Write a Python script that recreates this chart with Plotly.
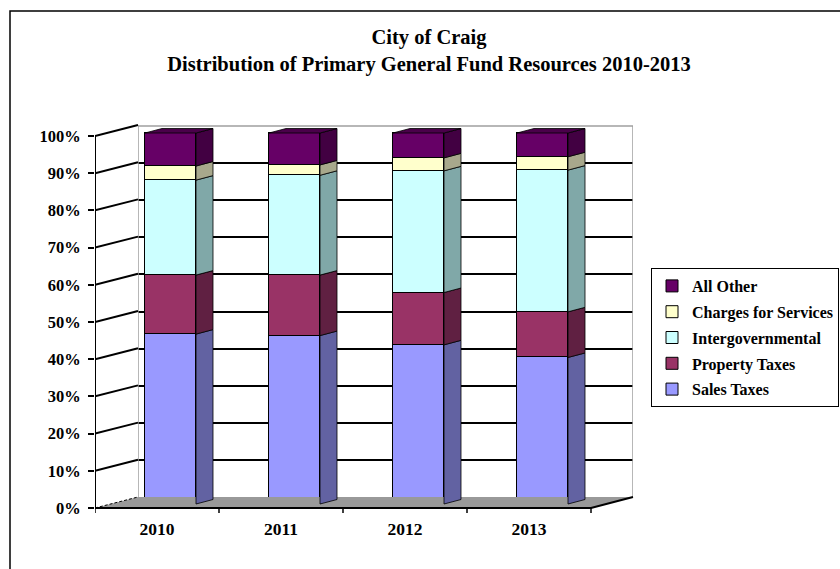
import plotly.graph_objects as go

# ---------------- data (percent of total) ----------------
years = ["2010", "2011", "2012", "2013"]
sales_taxes = [45.8, 45.4, 42.9, 39.5]
property_taxes = [15.9, 16.3, 14.1, 12.3]
intergovernmental = [25.6, 26.9, 32.8, 38.2]
charges_for_services = [3.8, 2.8, 3.5, 3.6]
all_other = [8.9, 8.6, 6.7, 6.4]

series_names = ["Sales Taxes", "Property Taxes", "Intergovernmental",
                "Charges for Services", "All Other"]
series_values = [sales_taxes, property_taxes, intergovernmental,
                 charges_for_services, all_other]
front_colors = ["#9999FF", "#993366", "#CCFFFF", "#FFFFCC", "#660066"]
side_colors = ["#6262A2", "#602042", "#80A8A8", "#A8A88C", "#420042"]
top_color = "#4A004A"

y_ticks = list(range(0, 101, 10))

# ---------------- geometry (pixels -> axis units) ----------------
W, H = 840, 569
FONT = "Liberation Serif"

def px_x(p):
    return p / W

def px_y(p):
    return 1 - p / H

DOM_TOP, DOM_BOT = 110, 540          # vertical pixel extent of plot domains
BAR_L, BAR_R = 95, 640               # bar subplot horizontal pixels
CAT_PX = 124.0                       # pixels per category
YPX = 3.71                           # pixels per percent
BAR_ZERO = 504                       # bar front-face 0 %
AXIS_ZERO = 508                      # left axis / floor front 0 %
WALL_ZERO = 497                      # back wall 0 %
WALL_L, WALL_R = 138, 633

xr2 = [-0.5, -0.5 + (BAR_R - BAR_L) / CAT_PX]
def ux(p):  # pixel -> x2 units
    return -0.5 + (p - BAR_L) / CAT_PX
yr2 = [(BAR_ZERO - DOM_BOT) / YPX, (BAR_ZERO - DOM_TOP) / YPX]
def uy(p):  # pixel -> y2 units
    return (BAR_ZERO - p) / YPX

BAR_OFFSET = ux(145)
BAR_WIDTH = (196 - 145) / CAT_PX
DX = 17 / CAT_PX
DY = 4.5 / YPX

fig = go.Figure()

# ---------------- back wall (subplot x/y) ----------------
fig.add_trace(go.Scatter(x=[0, 0, 1, 1], y=[0, 100, 100, 0], mode="lines",
                         line=dict(color="#A0A0A0", width=1.5),
                         xaxis="x", yaxis="y", showlegend=False, hoverinfo="skip"))

# ---------------- floor ----------------
floor_front = uy(AXIS_ZERO)
floor_back = uy(WALL_ZERO)
fig.add_trace(go.Scatter(
    x=[-0.5, ux(591), ux(WALL_R), ux(WALL_L), -0.5],
    y=[floor_front, floor_front, floor_back, floor_back, floor_front],
    fill="toself", fillcolor="#999999", mode="lines",
    line=dict(color="rgba(0,0,0,0)", width=0),
    xaxis="x2", yaxis="y2", showlegend=False, hoverinfo="skip"))
# floor left edge (dashed)
fig.add_trace(go.Scatter(x=[-0.5, ux(WALL_L)], y=[floor_front, floor_back],
                         mode="lines", line=dict(color="black", width=1, dash="3px,2px"),
                         xaxis="x2", yaxis="y2", showlegend=False, hoverinfo="skip"))
# bottom axis line + slanted right edge
bx, by = [-0.5, ux(591), ux(WALL_R)], [floor_front, floor_front, floor_back]
fig.add_trace(go.Scatter(x=bx, y=by, mode="lines", line=dict(color="black", width=2),
                         xaxis="x2", yaxis="y2", showlegend=False, hoverinfo="skip"))
# category boundary ticks
tx, ty = [], []
for i in range(len(years) + 1):
    b = i - 0.5
    tx += [b, b, None]
    ty += [floor_front, floor_front - 5 / YPX, None]
fig.add_trace(go.Scatter(x=tx, y=ty, mode="lines", line=dict(color="black", width=1.5),
                         xaxis="x2", yaxis="y2", showlegend=False, hoverinfo="skip"))

# ---------------- left wall (axis x2 / y3, 0 at AXIS_ZERO) ----------------
yr3 = [(AXIS_ZERO - DOM_BOT) / 3.72, (AXIS_ZERO - DOM_TOP) / 3.72]
wall_shift = (AXIS_ZERO - WALL_ZERO) / 3.72
lx, ly = [-0.5, -0.5, None], [0, 100, None]
for v in y_ticks[1:]:
    lx += [-0.5, ux(WALL_L), None]
    ly += [v, v + wall_shift, None]
fig.add_trace(go.Scatter(x=lx, y=ly, mode="lines", line=dict(color="black", width=2),
                         xaxis="x2", yaxis="y3", showlegend=False, hoverinfo="skip"))

# ---------------- bars ----------------
n = len(series_names)
for k, (name, vals, col) in enumerate(zip(series_names, series_values, front_colors)):
    fig.add_trace(go.Bar(x=list(range(len(years))), y=vals, name=name,
                         offset=BAR_OFFSET, width=BAR_WIDTH,
                         marker=dict(color=col, line=dict(color="black", width=1)),
                         legendgroup=name, legendrank=n - k,
                         xaxis="x2", yaxis="y2"))

# side faces
base = [0.0] * len(years)
for name, vals, col in zip(series_names, series_values, side_colors):
    sx, sy = [], []
    for i, v in enumerate(vals):
        xr = i + BAR_OFFSET + BAR_WIDTH
        y0, y1 = base[i], base[i] + v
        sx += [xr, xr + DX, xr + DX, xr, xr, None]
        sy += [y0, y0 + DY, y1 + DY, y1, y0, None]
        base[i] = y1
    fig.add_trace(go.Scatter(x=sx, y=sy, fill="toself", fillcolor=col, mode="lines",
                             line=dict(color="black", width=0.8),
                             xaxis="x2", yaxis="y2", showlegend=False, hoverinfo="skip"))
# top faces
sx, sy = [], []
for i in range(len(years)):
    xl = i + BAR_OFFSET
    xr = xl + BAR_WIDTH
    t = base[i]
    sx += [xl, xl + DX, xr + DX, xr, xl, None]
    sy += [t, t + DY, t + DY, t, t, None]
fig.add_trace(go.Scatter(x=sx, y=sy, fill="toself", fillcolor=top_color, mode="lines",
                         line=dict(color="black", width=0.8),
                         xaxis="x2", yaxis="y2", showlegend=False, hoverinfo="skip"))

dom_y = [px_y(DOM_BOT), px_y(DOM_TOP)]
fig.update_layout(
    width=W, height=H, margin=dict(l=0, r=0, t=0, b=0, autoexpand=False),
    paper_bgcolor="white", plot_bgcolor="rgba(0,0,0,0)",
    barmode="stack", bargap=0,
    font=dict(family=FONT, color="black"),
    title=dict(text="City of Craig<br>Distribution of Primary General Fund Resources 2010-2013",
               x=px_x(429), xanchor="center", y=px_y(44), yanchor="top",
               font=dict(family=FONT, size=20.5, weight="bold", color="black"),
               automargin=False),
    xaxis=dict(domain=[px_x(WALL_L), px_x(WALL_R)], range=[0, 1], showgrid=False,
               zeroline=False, showticklabels=False, ticks="", anchor="y"),
    yaxis=dict(domain=dom_y, range=[(WALL_ZERO - DOM_BOT) / YPX, (WALL_ZERO - DOM_TOP) / YPX],
               tickvals=y_ticks[1:-1], showgrid=True, gridcolor="black", gridwidth=2,
               zeroline=False, showticklabels=False, ticks="", anchor="x"),
    xaxis2=dict(domain=[px_x(BAR_L), px_x(BAR_R)], range=xr2,
                tickvals=list(range(len(years))), ticktext=years,
                tickfont=dict(family=FONT, size=17.5, weight="bold"),
                showgrid=False, zeroline=False, ticks="", showline=False,
                anchor="free", position=px_y(516)),
    yaxis2=dict(domain=dom_y, range=yr2, showgrid=False, zeroline=False,
                showticklabels=False, ticks="", anchor="x2"),
    yaxis3=dict(domain=dom_y, range=yr3, overlaying="y2", anchor="x2", side="left",
                tickvals=y_ticks, ticktext=[f"{v}%" for v in y_ticks],
                tickfont=dict(family=FONT, size=16.5, weight="bold"),
                ticks="outside", ticklen=6, tickwidth=1.5, tickcolor="black",
                ticklabelstandoff=4,
                showgrid=False, zeroline=False, showline=False),
    legend=dict(x=px_x(651), y=px_y(268), xanchor="left", yanchor="top",
                bordercolor="black", borderwidth=1, bgcolor="white",
                traceorder="grouped", tracegroupgap=2, itemwidth=30,
                font=dict(family=FONT, size=16, weight="bold")),
    shapes=[dict(type="rect", xref="paper", yref="paper",
                 x0=px_x(10), x1=1.02, y0=px_y(11), y1=-0.02,
                 line=dict(color="black", width=1.5), fillcolor="rgba(0,0,0,0)",
                 layer="below")],
)

fig.write_html("out.html")
